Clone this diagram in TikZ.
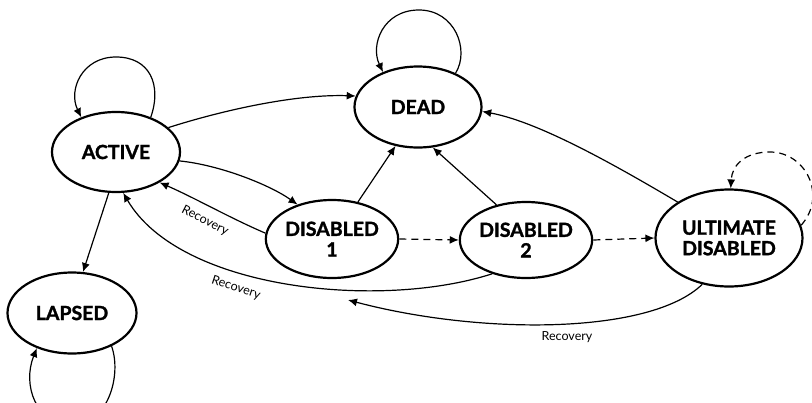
\documentclass[tikz,border=0pt]{standalone}
\usepackage{fontspec}
\setmainfont{Lato}[BoldFeatures={FakeBold=1.5}]
\usetikzlibrary{shapes.geometric,arrows.meta}
\begin{document}
\begin{tikzpicture}[x=1pt,y=-1pt,
  st/.style={ellipse,draw,line width=2.2pt,inner sep=0pt,align=center,
    font=\bfseries\fontsize{19.5}{20.5}\selectfont},
  ed/.style={line width=1.2pt,-{Latex[length=9pt,width=8pt]}},
  dsh/.style={ed,dash pattern=on 7pt off 5pt},
  lbl/.style={font=\fontsize{12.5}{13}\selectfont,inner sep=1pt}]
\useasboundingbox (0,0) rectangle (812,402);

\node[st,minimum width=128pt,minimum height=80pt] (act) at (116,152) {ACTIVE};
\node[st,minimum width=127pt,minimum height=81pt] (dead) at (418,107) {DEAD};
\node[st,minimum width=130pt,minimum height=78pt] (d1) at (332,239) {DISABLED\\1};
\node[st,minimum width=127pt,minimum height=76pt] (d2) at (526,240) {DISABLED\\2};
\node[st,minimum width=147pt,minimum height=97pt] (ult) at (729,238) {ULTIMATE\\DISABLED};
\node[st,minimum width=129pt,minimum height=81pt] (lap) at (72,313) {LAPSED};

\coordinate (rend) at (348,300);

% self loops
\draw[ed] (act.45) .. controls (162,85) and (150,57) .. (116,57) .. controls (82,57) and (68,90) .. (act.135);
\draw[ed] (dead.42) .. controls (470,50) and (455,10) .. (419,10) .. controls (383,10) and (370,45) .. (dead.135);
\draw[ed] (lap.-40) .. controls (122,375) and (108,425) .. (72,425) .. controls (36,425) and (22,385) .. (lap.-135);
\draw[dsh] (ult.10) .. controls (828,195) and (805,152) .. (770,152) .. controls (745,152) and (732,165) .. (ult.88);

% edges
\draw[ed] (act.25) .. controls (230,108) and (300,94) .. (dead.170);
\draw[ed] (act.-8) .. controls (220,165) and (270,185) .. (d1.135);
\draw[ed] (d1.175) .. controls (230,218) and (195,198) .. (act.-35);
\draw[ed] (act.-100) -- (lap.75);
\draw[ed] (d1.55) -- (dead.-120);
\draw[ed] (d2.130) -- (dead.-70);
\draw[dsh] (d1.east) -- (d2.west);
\draw[dsh] (d2.east) -- (ult.west);
\draw[ed] (ult.145) .. controls (620,168) and (540,122) .. (dead.-4);
\draw[ed] (d2.-135) .. controls (380,310) and (180,290) .. (act.-80);
\draw[ed] (ult.-120) .. controls (650,335) and (480,335) .. (rend);

% labels
\node[lbl,rotate=-27] (r1) at (205,221) {Recovery};
\node[lbl,rotate=-18] (r2) at (236,288) {Recovery};
\node[lbl] (r3) at (567,337) {Recovery};
\end{tikzpicture}
\end{document}
